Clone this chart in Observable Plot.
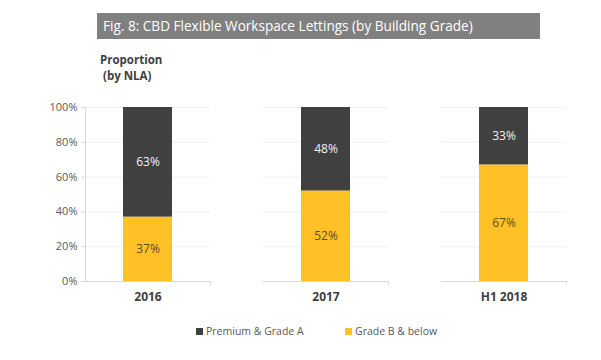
<!DOCTYPE html>
<html>
<head>
<meta charset="utf-8">
<script src="https://cdn.jsdelivr.net/npm/d3@7"></script>
<script src="https://cdn.jsdelivr.net/npm/@observablehq/plot@0.6"></script>
<style>
  html, body { margin: 0; padding: 0; background: #fff; }
  #wrap { position: relative; width: 601px; height: 360px; overflow: hidden; font-family: "Open Sans", sans-serif; }
  #title { position: absolute; left: 97px; top: 13px; width: 443px; height: 26px; background: #808080; color: #fff;
           font-size: 13.6px; line-height: 26px; padding-left: 6px; box-sizing: border-box; white-space: nowrap; }
  #ylab { position: absolute; left: 100px; top: 52px; font-size: 11.5px; font-weight: bold; color: #404040; line-height: 16px; }
  #chart { position: absolute; left: 0; top: 0; }
  #legend { position: absolute; top: 324px; left: 0; width: 601px; font-size: 10.5px; color: #595959; }
  .li { position: absolute; display: flex; align-items: center; white-space: nowrap; }
  .sw { width: 7px; height: 7px; margin-right: 3px; display: inline-block; }
</style>
</head>
<body>
<div id="wrap">
  <div id="title">Fig. 8: CBD Flexible Workspace Lettings (by Building Grade)</div>
  <div id="ylab">Proportion<br>&nbsp;(by NLA)</div>
  <div id="chart"></div>
  <div id="legend"></div>
</div>
<script>
const categories = ["2016", "2017", "H1 2018"];
const seriesNames = ["Grade B & below", "Premium & Grade A"];
const gradeB = [0.37, 0.52, 0.67];
const premiumA = [0.63, 0.48, 0.33];
const labelsB = ["37%", "52%", "67%"];
const labelsA = ["63%", "48%", "33%"];
const yTicks = [0, 0.2, 0.4, 0.6, 0.8, 1];
const colors = { "Grade B & below": "#FFC125", "Premium & Grade A": "#404040" };
const textColors = { "Grade B & below": "#5c4d22", "Premium & Grade A": "#f2f2f2" };

const data = [];
categories.forEach((c, i) => {
  data.push({ cat: c, series: seriesNames[0], value: gradeB[i], label: labelsB[i] });
  data.push({ cat: c, series: seriesNames[1], value: premiumA[i], label: labelsA[i] });
});
const edges = categories.map(c => ({ cat: c }));

const chart = Plot.plot({
  width: 601,
  height: 360,
  marginTop: 107,
  marginBottom: 79,
  marginLeft: 84,
  marginRight: 35,
  style: { fontFamily: "'Open Sans', sans-serif", background: "transparent" },
  fx: { domain: categories, paddingInner: 0.3, paddingOuter: 0, label: null, axis: null },
  x: { domain: [0, 1], axis: null },
  y: { domain: [0, 1], axis: null },
  color: { domain: seriesNames, range: seriesNames.map(s => colors[s]) },
  marks: [
    Plot.gridY(yTicks, { stroke: "#f0f0f0", strokeOpacity: 1 }),
    Plot.ruleY(edges, { fx: "cat", y: () => 0, stroke: "#d9d9d9" }),
    Plot.ruleX(edges, { fx: "cat", x: () => 1, y1: () => 0, y2: () => -0.02, stroke: "#d9d9d9" }),
    Plot.ruleX(edges.slice(0, 1), { fx: "cat", x: () => 0, y1: () => 0, y2: () => 1, stroke: "#d9d9d9" }),
    Plot.axisY(yTicks, { tickFormat: d3.format(".0%"), tickSize: 4, tickPadding: 4, stroke: "#d9d9d9", fill: "#595959", fontSize: 11, label: null }),
    Plot.axisFx({ anchor: "bottom", tickSize: 0, tickPadding: 11, fontSize: 12, fontWeight: "bold", fill: "#404040", label: null }),
    Plot.barY(data, Plot.stackY({ fx: "cat", y: "value", fill: "series", insetLeft: 38, insetRight: 38 })),
    Plot.text(data, Plot.stackY({ fx: "cat", y: "value", text: "label", fill: d => textColors[d.series], fontSize: 12 }))
  ]
});
document.getElementById("chart").appendChild(chart);

const legend = document.getElementById("legend");
const legendItems = [
  { name: "Premium & Grade A", left: 196 },
  { name: "Grade B & below", left: 345 }
];
legendItems.forEach(it => {
  const d = document.createElement("div");
  d.className = "li";
  d.style.left = it.left + "px";
  d.innerHTML = `<span class="sw" style="background:${colors[it.name]}"></span>${it.name}`;
  legend.appendChild(d);
});
</script>
</body>
</html>
